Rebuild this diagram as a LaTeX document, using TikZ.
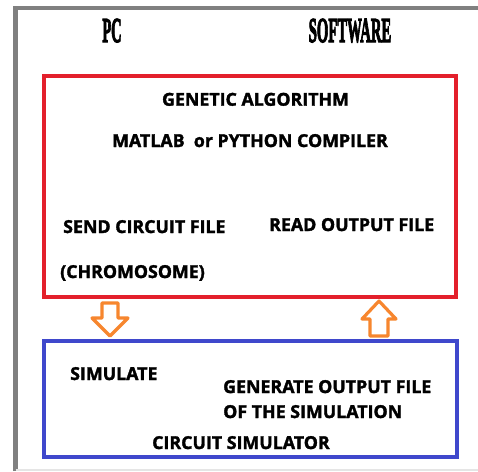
\documentclass[tikz,border=0pt]{standalone}
\usepackage{fontspec}
\setmainfont{Open Sans}[BoldFeatures={FakeBold=1.8}]
\newfontfamily\headfont{Liberation Serif}[BoldFeatures={FakeBold=4}]
\definecolor{boxred}{HTML}{E3202B}
\definecolor{boxblue}{HTML}{3F48CC}
\definecolor{arrorange}{HTML}{F7862E}
\definecolor{framegray}{HTML}{808080}
\begin{document}
\begin{tikzpicture}[x=1pt,y=-1pt,
  txt/.style={font=\bfseries\fontsize{17.8}{19}\selectfont, inner sep=0pt},
  head/.style={font=\headfont\bfseries\fontsize{35}{35}\selectfont, inner sep=0pt, anchor=base},
  boxline/.style={line width=4pt},
  blockarrow/.style={draw=arrorange, line width=3.2pt, fill=white, line join=round}]
\useasboundingbox (0,0) rectangle (478,471);
\fill[white] (0,0) rectangle (478,471);
% window frame
\draw[framegray, line width=4.5pt] (15.5,471) -- (15.5,8) -- (478,8);
\draw[black!10, line width=1.5pt] (15.5,470) -- (478,470);
% headers
\node[head] (pc) at (112,42) {\scalebox{0.41}[1]{PC}};
\node[head] (sw) at (350,42) {\scalebox{0.42}[1]{SOFTWARE}};
% boxes
\draw[boxline, boxred] (44,75.5) rectangle (455.5,297);
\draw[boxline, boxblue] (44,341) rectangle (456.5,456.5);
% texts in red box
\node[txt, anchor=base] (ga) at (255.5,105.7) {GENETIC ALGORITHM};
\node[txt, anchor=base] (mat) at (250,147) {MATLAB\ \ or PYTHON COMPILER};
\node[txt, anchor=base west] (send) at (63,233) {SEND CIRCUIT FILE};
\node[txt, anchor=base west] (read) at (269,231) {READ OUTPUT FILE};
\node[txt, anchor=base west] (chrom) at (60,278) {(CHROMOSOME)};
% texts in blue box
\node[txt, anchor=base west] (sim) at (70,380) {SIMULATE};
\node[txt, anchor=base west] (gen) at (223,393) {GENERATE OUTPUT FILE};
\node[txt, anchor=base west] (ofthe) at (223,418) {OF THE SIMULATION};
\node[txt, anchor=base west] (cs) at (152,449) {CIRCUIT SIMULATOR};
% block arrows
\draw[blockarrow] (102,303) -- (118,303) -- (118,318) -- (128,318) -- (110,336) -- (92,318) -- (102,318) -- cycle;
\draw[blockarrow] (370,336) -- (388,336) -- (388,319) -- (396,319) -- (379,301) -- (362,319) -- (370,319) -- cycle;
\end{tikzpicture}
\end{document}
